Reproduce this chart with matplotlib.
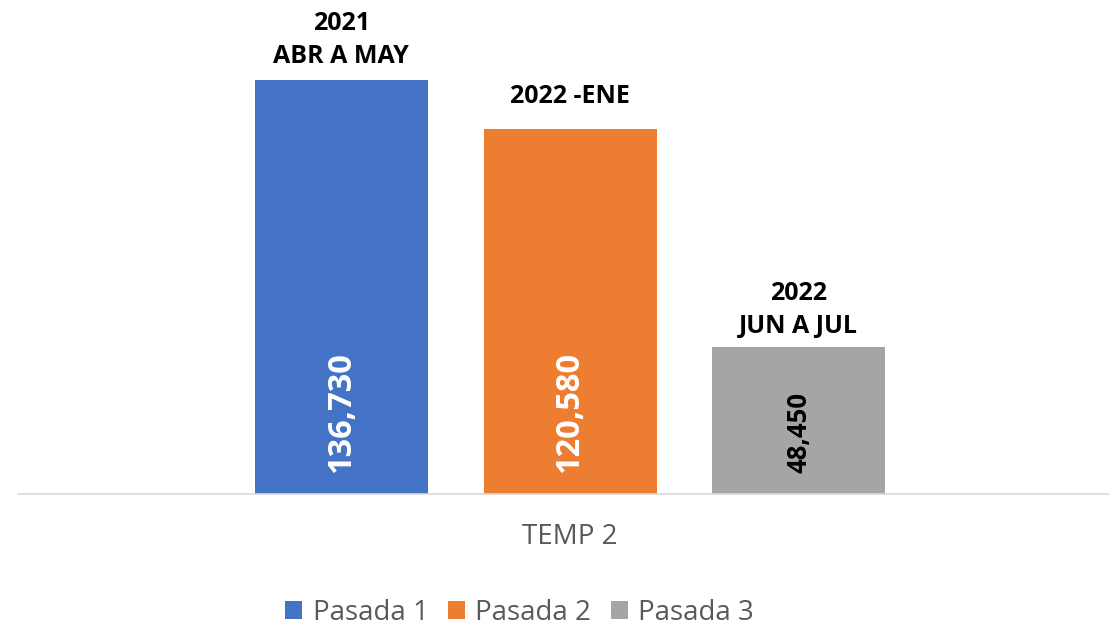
import matplotlib
matplotlib.use("Agg")
import matplotlib.pyplot as plt
from matplotlib.patches import Patch

plt.rcParams['font.family'] = ['Open Sans', 'DejaVu Sans']

# ---- data ----
category = "TEMP 2"
series = ["Pasada 1", "Pasada 2", "Pasada 3"]
values = [136730, 120580, 48450]
top_labels = ["2021\nABR A MAY", "2022 -ENE", "2022\nJUN A JUL"]
colors = ["#4472C4", "#ED7D31", "#A5A5A5"]
value_colors = ["white", "white", "black"]
value_sizes = [23.5, 23.5, 18.5]
top_offsets = [8, 14.5, 6]

W, H = 1109, 625
fig = plt.figure(figsize=(W / 100, H / 100), dpi=100)
ax_left, ax_right = 18, 1108
base_y = 493.5
ylim_top = 150000
h_px = ylim_top / values[0] * 413.5
ax = fig.add_axes([ax_left / W, (H - base_y) / H, (ax_right - ax_left) / W, h_px / H])

step = 228.75
center_px = 570
x = list(range(len(values)))
ax.bar(x, values, width=173 / step, color=colors, zorder=2)
ax.set_xlim((ax_left - center_px) / step + 1, (ax_right - center_px) / step + 1)
ax.set_ylim(0, ylim_top)

for s in ["top", "right", "left"]:
    ax.spines[s].set_visible(False)
ax.spines["bottom"].set_color("#D9D9D9")
ax.spines["bottom"].set_linewidth(1.2)
ax.set_yticks([])
ax.set_xticks([1])
ax.set_xticklabels([category], fontsize=20, color="#595959")
ax.tick_params(axis="x", length=0, pad=21)

for i, v in enumerate(values):
    ax.annotate(f"{v:,}", (i, 0), xytext=(0, 15), textcoords="offset points",
                rotation=90, ha="center", va="bottom", fontsize=value_sizes[i],
                fontweight="bold", color=value_colors[i])
    ax.annotate(top_labels[i], (i, v), xytext=(0, top_offsets[i]), textcoords="offset points",
                ha="center", va="bottom", fontsize=18, fontweight="bold",
                color="black", linespacing=1.4, multialignment="center")

handles = [Patch(facecolor=c, edgecolor="none") for c in colors]
fig.legend(handles, series, loc="center", bbox_to_anchor=(519.5 / W, 1 - 613 / H),
           ncol=3, frameon=False, fontsize=20, labelcolor="#595959",
           handlelength=0.62, handleheight=0.62, handletextpad=0.37,
           columnspacing=0.7, borderaxespad=0, borderpad=0)

fig.savefig("out.png", dpi=100)
